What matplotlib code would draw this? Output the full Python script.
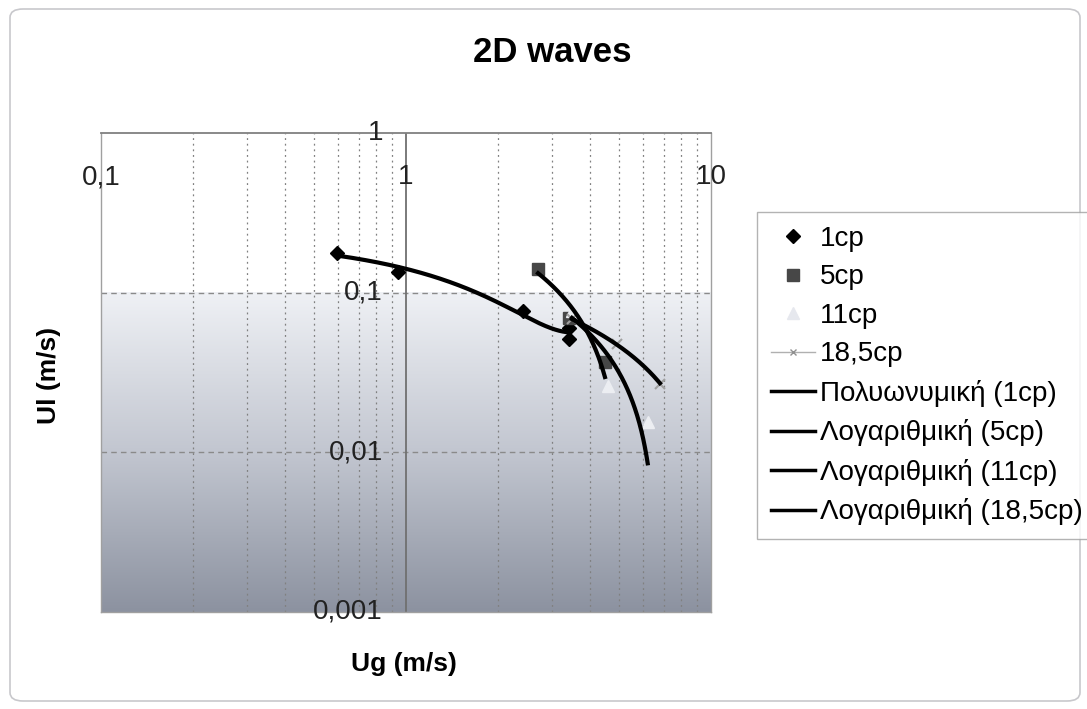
import numpy as np
import matplotlib
matplotlib.use("Agg")
import matplotlib.pyplot as plt
from matplotlib.lines import Line2D
from matplotlib.patches import FancyBboxPatch
from matplotlib.colors import LinearSegmentedColormap

plt.rcParams['font.family'] = ['Liberation Sans', 'DejaVu Sans']

# series (Ug, Ul in m/s)
ug_1cp = [0.594, 0.94, 2.42, 3.42, 3.42]
ul_1cp = [0.178, 0.135, 0.077, 0.060, 0.051]
ug_5cp = [2.71, 3.42, 4.49]
ul_5cp = [0.141, 0.069, 0.037]
ug_11cp = [3.5, 4.6, 6.2]
ul_11cp = [0.077, 0.026, 0.0154]
ug_18cp = [3.5, 4.9, 6.8]
ul_18cp = [0.068, 0.048, 0.0268]

x_ticks = [0.1, 1, 10]
x_tick_labels = ['0,1', '1', '10']
y_ticks = [1, 0.1, 0.01, 0.001]
y_tick_labels = ['1', '0,1', '0,01', '0,001']

fig = plt.figure(figsize=(10.87, 7.09), dpi=100)
W, H = 1087, 709

# chart area border
fig.patches.append(FancyBboxPatch((10 / W, 8 / H), 1070 / W, 692 / H,
                                  boxstyle="round,pad=0,rounding_size=0.012",
                                  transform=fig.transFigure, fill=False,
                                  edgecolor='#c8c8cc', linewidth=1.2))

ax = fig.add_axes([101 / W, 97 / H, 610 / W, 479 / H])
ax.set_xscale('log')
ax.set_yscale('log')
ax.set_xlim(0.1, 10)
ax.set_ylim(0.001, 1)

# gradient fill below the 0.1 line
grad = LinearSegmentedColormap.from_list('g', ['#8c92a0', '#c2c6d0', '#eff1f5'])
ax.imshow(np.linspace(0, 1, 256).reshape(-1, 1), cmap=grad, origin='lower',
          extent=[0, 1, 0, 2 / 3], transform=ax.transAxes, aspect='auto', zorder=0)

# grid
for dec in [0.1, 1]:
    for m in range(2, 10):
        ax.axvline(dec * m, color='#808080', lw=0.9, ls=(0, (1.5, 3)), zorder=1)
for yv in [0.1, 0.01]:
    ax.axhline(yv, color='#8a8a8a', lw=1.0, ls=(0, (4, 3)), zorder=1)
ax.axvline(1, color='#707070', lw=1.3, zorder=2)

for side in ['left', 'bottom', 'right']:
    ax.spines[side].set_color('#a0a0a0')
    ax.spines[side].set_linewidth(1.0)
ax.spines['top'].set_color('#808080')
ax.spines['top'].set_linewidth(1.3)
ax.tick_params(which='both', length=0, labelbottom=False, labelleft=False)
ax.minorticks_off()

tf = ax.get_xaxis_transform()
for xv, lab in zip(x_ticks, x_tick_labels):
    ax.text(xv, 0.908, lab, transform=tf, ha='center', va='center', fontsize=20, color='#222222')
for yv, lab in zip(y_ticks, y_tick_labels):
    ax.text(0.84, yv, lab, ha='right', va='center', fontsize=20, color='#222222', clip_on=False)

# data
ax.plot(ug_1cp, ul_1cp, ls='none', marker='D', ms=7, color='black', zorder=4)
ax.plot(ug_5cp, ul_5cp, ls='none', marker='s', ms=9, color='#474747', zorder=4)
ax.plot(ug_11cp, ul_11cp, ls='none', marker='^', ms=9, color='#eceef2', zorder=4)
ax.plot(ug_18cp, ul_18cp, ls='none', marker='x', ms=7, mew=1.5, color='#a0a0a0', zorder=4)

# trendlines (polynomial order 2 for 1cp, logarithmic for the others)
xs = np.array(ug_1cp)
c = np.polyfit(xs, ul_1cp, 2)
xx = np.linspace(xs.min(), xs.max(), 200)
ax.plot(xx, np.polyval(c, xx), color='black', lw=3, zorder=5)
for ug, ul in [(ug_5cp, ul_5cp), (ug_11cp, ul_11cp), (ug_18cp, ul_18cp)]:
    ug = np.array(ug)
    a, b = np.polyfit(np.log(ug), ul, 1)
    xx = np.linspace(ug.min(), ug.max(), 200)
    ax.plot(xx, a * np.log(xx) + b, color='black', lw=3, zorder=5)

fig.text(552 / W, 1 - 53 / H, '2D waves', ha='center', va='center',
         fontsize=25, fontweight='bold')
fig.text(404 / W, 1 - 664 / H, 'Ug (m/s)', ha='center', va='center',
         fontsize=19, fontweight='bold')
fig.text(49 / W, 1 - 375 / H, 'Ul (m/s)', ha='center', va='center',
         fontsize=19, fontweight='bold', rotation=90)

handles = [
    Line2D([], [], ls='none', marker='D', ms=7, color='black'),
    Line2D([], [], ls='none', marker='s', ms=8, color='#474747'),
    Line2D([], [], ls='none', marker='^', ms=8, color='#e6e8ee'),
    Line2D([], [], color='#b0b0b0', lw=1, marker='x', ms=5, mec='#909090'),
    Line2D([], [], color='black', lw=2.5),
    Line2D([], [], color='black', lw=2.5),
    Line2D([], [], color='black', lw=2.5),
    Line2D([], [], color='black', lw=2.5),
]
labels = ['1cp', '5cp', '11cp', '18,5cp', 'Πολυωνυμική (1cp)',
          'Λογαριθμική (5cp)', 'Λογαριθμική (11cp)', 'Λογαριθμική (18,5cp)']
leg = fig.legend(handles, labels, loc='upper left', bbox_to_anchor=(757 / W, 1 - 212 / H),
                 fontsize=20, frameon=True, fancybox=False, handlelength=1.6,
                 handletextpad=0.15, labelspacing=0.45, borderpad=0.5,
                 borderaxespad=0, edgecolor='#a0a0a0')
leg.get_frame().set_linewidth(1.0)

fig.savefig('out.png', dpi=100)
